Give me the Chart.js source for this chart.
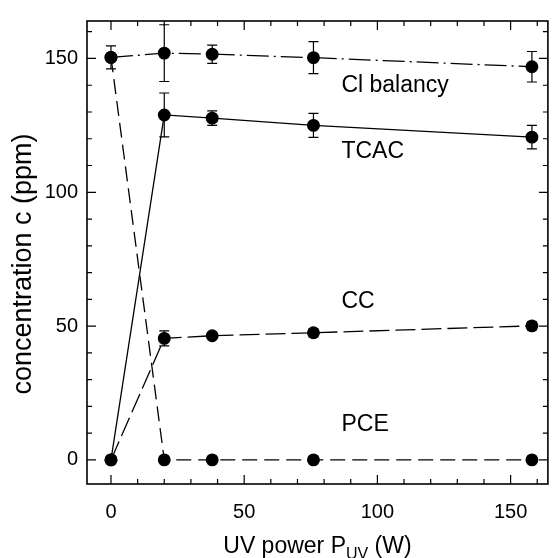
<!DOCTYPE html>
<html lang="en">
<head>
<meta charset="UTF-8">
<title>Concentration vs UV power</title>
<script src="https://cdn.jsdelivr.net/npm/chart.js"></script>
<style>
  html, body { margin: 0; padding: 0; background: #fff; }
  #wrap { width: 555px; height: 558px; position: relative; }
</style>
</head>
<body>
<div id="wrap"><canvas id="chart"></canvas></div>
<script>
// values
const powers = [0, 20, 38, 76, 158];
const clBalancy = [150.4, 152.0, 151.6, 150.3, 146.9];
const clErr = [4.3, 10.6, 3.4, 6.0, 5.7];
const tcac = [0, 128.9, 127.7, 125.0, 120.6];
const tcacErr = [0, 8.2, 2.7, 4.5, 4.4];
const cc = [0, 45.4, 46.4, 47.5, 50.1];
const ccErr = [0, 2.8, 0.8, 1.5, 1.5];
const pce = [150.4, 0, 0, 0, 0];

const xTicks = [0, 50, 100, 150];
const yTicks = [0, 50, 100, 150];

// curve labels, anchored in data units
const labelText = ['Cl balancy', 'TCAC', 'CC', 'PCE'];
const labelX = [86.5, 86.5, 86.5, 86.5];
const labelY = [140, 115, 59, 13];

const FONT = '"Liberation Sans", Arial, Helvetica, sans-serif';

function pts(ys) {
  return powers.map((p, i) => ({ x: p, y: ys[i] }));
}

function series(ys, dash) {
  return {
    data: pts(ys),
    showLine: true,
    borderColor: '#000',
    borderWidth: 1.3,
    borderDash: dash,
    pointRadius: 5.8,
    pointHoverRadius: 5.8,
    pointBackgroundColor: '#000',
    pointBorderColor: '#000',
    tension: 0
  };
}

const errBars = {
  id: 'errBars',
  beforeDatasetsDraw(chart) {
    const { ctx, scales: { x, y } } = chart;
    const sets = [[clBalancy, clErr], [tcac, tcacErr], [cc, ccErr]];
    ctx.save();
    ctx.strokeStyle = '#000';
    ctx.lineWidth = 1.2;
    sets.forEach(([vals, errs]) => {
      powers.forEach((p, i) => {
        if (!errs[i]) return;
        const px = x.getPixelForValue(p);
        const top = y.getPixelForValue(vals[i] + errs[i]);
        const bot = y.getPixelForValue(vals[i] - errs[i]);
        ctx.beginPath();
        ctx.moveTo(px, top); ctx.lineTo(px, bot);
        ctx.moveTo(px - 5, top); ctx.lineTo(px + 5, top);
        ctx.moveTo(px - 5, bot); ctx.lineTo(px + 5, bot);
        ctx.stroke();
      });
    });
    ctx.restore();
  }
};

const frame = {
  id: 'frame',
  afterDraw(chart) {
    const { ctx, chartArea: a, scales: { x, y } } = chart;
    ctx.save();
    ctx.strokeStyle = '#000';
    ctx.lineWidth = 1.6;
    ctx.strokeRect(a.left, a.top, a.right - a.left, a.bottom - a.top);

    // inward ticks on all four sides, every 10
    ctx.lineWidth = 1.2;
    ctx.beginPath();
    for (let v = 0; v <= 160; v += 10) {
      const len = v % 50 === 0 ? 9 : 5;
      const px = x.getPixelForValue(v);
      if (px > a.left && px < a.right) {
        ctx.moveTo(px, a.bottom); ctx.lineTo(px, a.bottom - len);
        ctx.moveTo(px, a.top); ctx.lineTo(px, a.top + len);
      }
      const py = y.getPixelForValue(v);
      if (py > a.top && py < a.bottom) {
        ctx.moveTo(a.left, py); ctx.lineTo(a.left + len, py);
        ctx.moveTo(a.right, py); ctx.lineTo(a.right - len, py);
      }
    }
    ctx.stroke();

    // curve labels
    ctx.fillStyle = '#000';
    ctx.font = '23px ' + FONT;
    ctx.textAlign = 'left';
    ctx.textBaseline = 'middle';
    labelText.forEach((t, i) => {
      ctx.fillText(t, x.getPixelForValue(labelX[i]), y.getPixelForValue(labelY[i]));
    });

    // x axis title with subscript
    const cx = (a.left + a.right) / 2;
    const by = 553;
    const big = '23px ' + FONT, small = '16px ' + FONT;
    ctx.textBaseline = 'alphabetic';
    ctx.font = big;
    const w1 = ctx.measureText('UV power P').width;
    const w3 = ctx.measureText(' (W)').width;
    ctx.font = small;
    const w2 = ctx.measureText('UV').width;
    let sx = cx - (w1 + w2 + w3) / 2;
    ctx.font = big;
    ctx.fillText('UV power P', sx, by);
    ctx.font = small;
    ctx.fillText('UV', sx + w1, by + 6);
    ctx.font = big;
    ctx.fillText(' (W)', sx + w1 + w2, by);

    // y axis title
    ctx.save();
    ctx.translate(24, 264);
    ctx.rotate(-Math.PI / 2);
    ctx.textAlign = 'center';
    ctx.textBaseline = 'middle';
    ctx.font = '27px ' + FONT;
    ctx.fillText('concentration c (ppm)', 0, 0);
    ctx.restore();
    ctx.restore();
  }
};

new Chart(document.getElementById('chart'), {
  type: 'scatter',
  data: {
    datasets: [
      series(clBalancy, [22, 5, 2, 5]),
      series(tcac, []),
      series(cc, [20, 6]),
      series(pce, [15, 7])
    ]
  },
  options: {
    responsive: true,
    maintainAspectRatio: false,
    animation: false,
    events: [],
    layout: { padding: { top: 14, right: 2, left: 0, bottom: 0 } },
    plugins: { legend: { display: false }, tooltip: { enabled: false } },
    scales: {
      x: {
        type: 'linear',
        min: -9, max: 164,
        grid: { display: false, drawTicks: false },
        border: { display: false },
        afterFit(s) { s.height = 74; },
        afterBuildTicks(s) { s.ticks = xTicks.map(v => ({ value: v })); },
        ticks: { color: '#000', padding: 16, font: { family: FONT, size: 20 }, maxRotation: 0 }
      },
      y: {
        type: 'linear',
        min: -9, max: 164,
        grid: { display: false, drawTicks: false },
        border: { display: false },
        afterFit(s) { s.width = 87; },
        afterBuildTicks(s) { s.ticks = yTicks.map(v => ({ value: v })); },
        ticks: { color: '#000', padding: 9, font: { family: FONT, size: 20 } }
      }
    }
  },
  plugins: [errBars, frame]
});
</script>
</body>
</html>
